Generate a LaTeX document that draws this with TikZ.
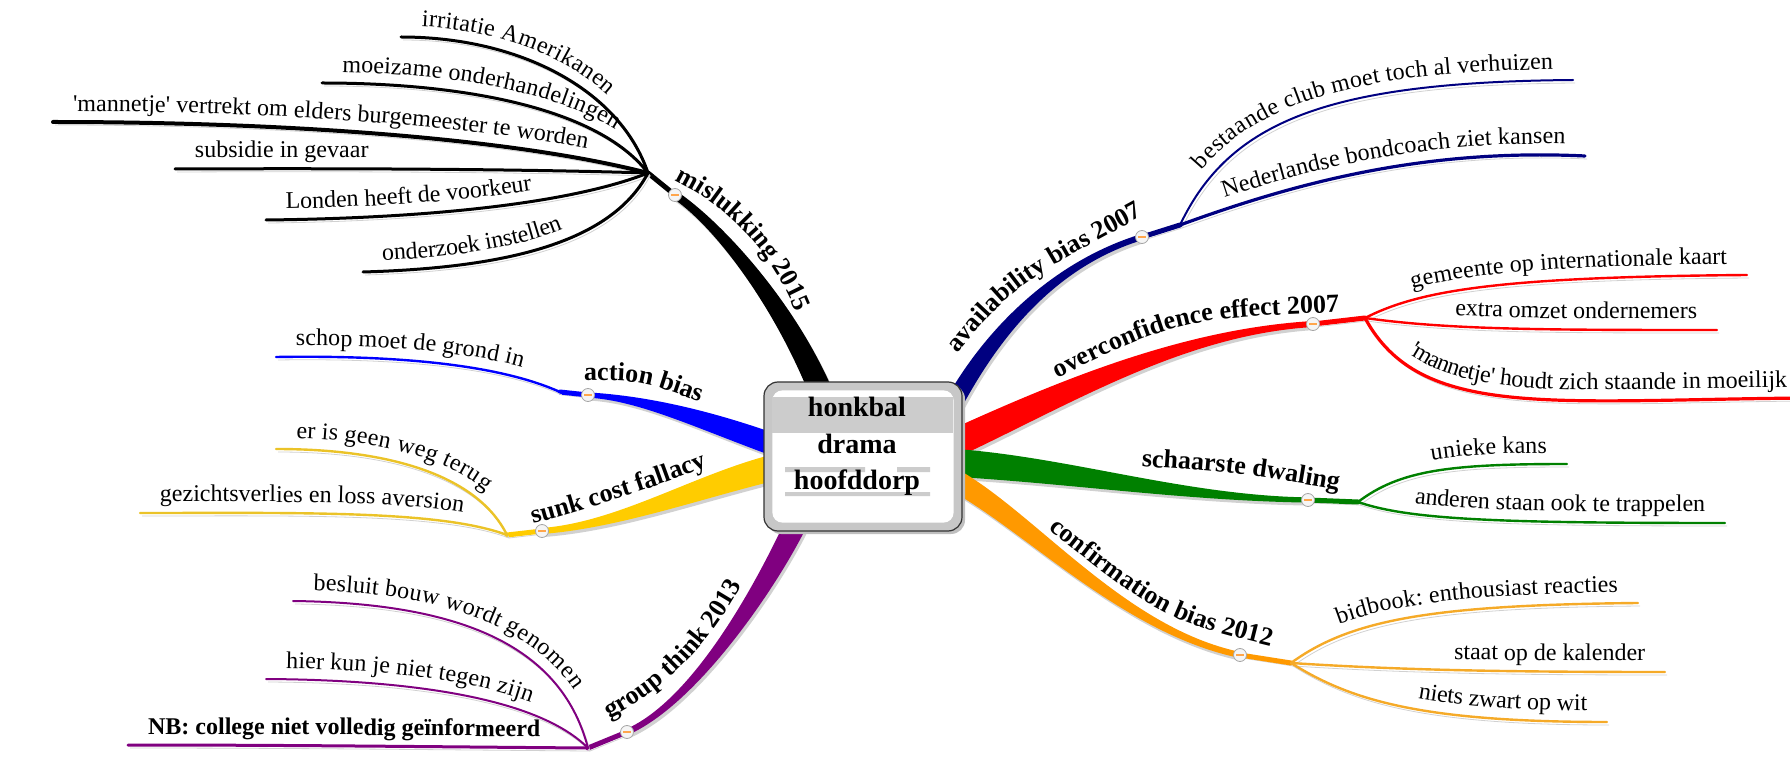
\documentclass[tikz,border=0pt]{standalone}
\usepackage{fontspec}
\setmainfont{Liberation Serif}[Ligatures=TeXOff]
\usetikzlibrary{calc}
\usetikzlibrary{decorations.text}

\definecolor{navyblue}{RGB}{0,0,128}
\definecolor{mapred}{RGB}{255,0,0}
\definecolor{mapgreen}{RGB}{0,128,0}
\definecolor{maporange}{RGB}{255,153,0}
\definecolor{leaforange}{RGB}{245,170,40}
\definecolor{mappurple}{RGB}{128,0,128}
\definecolor{mapyellow}{RGB}{255,204,0}
\definecolor{leafyellow}{RGB}{235,195,40}
\definecolor{mapblue}{RGB}{0,0,255}

\newcommand{\labelfont}{\fontsize{13}{15}\selectfont\bfseries}

% tapered main branch: colour, start, two controls, knob, half width at start and at knob
\newcommand{\limb}[7]{%
  \fill[#1, preaction={fill=black!18, transform canvas={xshift=1pt,yshift=-1.5pt}}]
    let \p0=(#2), \p1=#3, \p2=#4, \p3=(#5),
        \n1={atan2(\y1-\y0,\x1-\x0)+90}, \n2={atan2(\y3-\y2,\x3-\x2)+90} in
    ($(\p0)+(\n1:#6)$) .. controls ($(\p1)+(\n1:#6)$) and ($(\p2)+(\n2:#7)$) .. ($(\p3)+(\n2:#7)$)
    -- ($(\p3)-(\n2:#7)$) .. controls ($(\p2)-(\n2:#7)$) and ($(\p1)-(\n1:#6)$) .. ($(\p0)-(\n1:#6)$) -- cycle;}

\tikzset{
  twig/.style={line width=#1, line cap=round, preaction={draw=black!18, transform canvas={xshift=1pt,yshift=-1.5pt}}},
  lefttext/.style={postaction={decorate, decoration={text along path, text={#1}, raise=5.5pt, text align={left, left indent=10pt}}}},
  righttext/.style={postaction={decorate, decoration={text along path, text={#1}, raise=5.5pt, text align={right, right indent=10pt}}}},
  bough/.style={decorate, decoration={text along path, text={|\labelfont|#1}, text align=center}},
  knob/.style={circle, draw=black!35, fill=black!4, inner sep=0pt, minimum size=6.5pt,
    path picture={\draw[orange!70, line width=.9pt] ([xshift=-1.8pt]path picture bounding box.center) -- ([xshift=1.8pt]path picture bounding box.center);}},
  crate/.style={draw=black!80, fill=black!22, rounded corners=7pt, minimum width=99pt, minimum height=74.5pt, line width=.6pt,
    preaction={fill=black!25, transform canvas={xshift=1.5pt,yshift=-1.5pt}}},
  boxtitle/.style={font=\fontsize{14}{16}\selectfont\bfseries, anchor=base, inner sep=0pt}
}

\begin{document}
\fontsize{12}{14}\selectfont
\begin{tikzpicture}[x=0.5pt, y=-0.5pt]
\useasboundingbox (0,0) rectangle (1790,775);

% starts inside the box, knobs, hubs
\foreach \name/\cx/\cy in {sFail/835/430, sAvail/945/420, sOver/940/450, sScarce/940/462,
  sConfirm/945/475, sGroup/800/515, sSunk/780/466, sAction/780/447,
  kFail/675/195, kAvail/1142/237, kOver/1313/324, kScarce/1308/500,
  kConfirm/1240/655, kGroup/627/732, kSunk/542/531, kAction/588/395,
  hFail/648/173, hAvail/1180/225, hOver/1365/318, hScarce/1358/502,
  hConfirm/1291/663, hGroup/588/748, hSunk/507/535, hAction/560/392}
  \coordinate (\name) at (\cx,\cy);

% free ends of the leaves
\foreach \name/\cx/\cy in {eIrr/401/37, eMoei/322/83, eMan/53/122, eSub/175/169, eLon/266/220,
  eOnd/363/272, eSchop/276/357, eTerug/276/449, eGezicht/140/513, eBesluit/293/601,
  eHier/266/679, eNB/128/745, eClub/1573/80, eBond/1585/156, eKaart/1747/275,
  eOmzet/1717/330, eStaande/1807/398, eKans/1567/464, eTrap/1725/523,
  eBid/1638/603, eKal/1665/672, eWit/1607/722}
  \coordinate (\name) at (\cx,\cy);

% main branches
\limb{black}{sFail}{(800,320)}{(720,225)}{kFail}{6pt}{2pt}
\limb{navyblue}{sAvail}{(985,340)}{(1050,265)}{kAvail}{4.5pt}{1.5pt}
\limb{mapred}{sOver}{(1060,395)}{(1180,332)}{kOver}{7pt}{1.5pt}
\limb{mapgreen}{sScarce}{(1060,468)}{(1180,498)}{kScarce}{7pt}{1.3pt}
\limb{maporange}{sConfirm}{(1025,515)}{(1120,630)}{kConfirm}{5.5pt}{1.5pt}
\limb{mappurple}{sGroup}{(775,570)}{(700,700)}{kGroup}{5.5pt}{1.5pt}
\limb{mapyellow}{sSunk}{(700,485)}{(620,525)}{kSunk}{6.5pt}{1.5pt}
\limb{mapblue}{sAction}{(700,418)}{(640,398)}{kAction}{5.5pt}{1.3pt}

\foreach \k/\h/\c in {kFail/hFail/black, kAvail/hAvail/navyblue, kOver/hOver/mapred,
  kScarce/hScarce/mapgreen, kConfirm/hConfirm/maporange, kGroup/hGroup/mappurple,
  kSunk/hSunk/mapyellow, kAction/hAction/mapblue}
  \draw[twig=2.5pt, \c] (\k) -- (\h);

% leaves
\draw[twig=1.5pt, black, lefttext={irritatie Amerikanen}] (eIrr) .. controls (520,37) and (620,90) .. (hFail);
\draw[twig=1.5pt, black, lefttext={moeizame onderhandelingen}] (eMoei) .. controls (470,83) and (600,110) .. (hFail);
\draw[twig=2pt, black, lefttext={'mannetje' vertrekt om elders burgemeester te worden}] (eMan) .. controls (300,122) and (520,140) .. (hFail);
\draw[twig=1.5pt, black, lefttext={subsidie in gevaar}] (eSub) .. controls (400,168) and (550,170) .. (hFail);
\draw[twig=1.5pt, black, lefttext={Londen heeft de voorkeur}] (eLon) .. controls (450,218) and (580,200) .. (hFail);
\draw[twig=1.5pt, black, lefttext={onderzoek instellen}] (eOnd) .. controls (500,268) and (610,245) .. (hFail);

\draw[twig=1.2pt, mapblue, lefttext={schop moet de grond in}] (eSchop) .. controls (400,355) and (500,365) .. (hAction);

\draw[twig=1.2pt, leafyellow, lefttext={er is geen weg terug}] (eTerug) .. controls (400,449) and (480,480) .. (hSunk);
\draw[twig=1.2pt, leafyellow, lefttext={gezichtsverlies en loss aversion}] (eGezicht) .. controls (300,513) and (440,510) .. (hSunk);

\draw[twig=1pt, mappurple, lefttext={besluit bouw wordt genomen}] (eBesluit) .. controls (450,603) and (560,640) .. (hGroup);
\draw[twig=1pt, mappurple, lefttext={hier kun je niet tegen zijn}] (eHier) .. controls (420,680) and (540,700) .. (hGroup);
\draw[twig=1.5pt, mappurple, lefttext={|\bfseries|NB: college niet volledig geïnformeerd}] (eNB) .. controls (300,745) and (450,747) .. (hGroup);

\draw[twig=1pt, navyblue, righttext={bestaande club moet toch al verhuizen}] (hAvail) .. controls (1230,120) and (1330,82) .. (eClub);
\draw[twig=1.6pt, navyblue, righttext={Nederlandse bondcoach ziet kansen}] (hAvail) .. controls (1290,185) and (1420,148) .. (eBond);

\draw[twig=1.2pt, mapred, righttext={gemeente op internationale kaart}] (hOver) .. controls (1420,290) and (1500,277) .. (eKaart);
\draw[twig=1.2pt, mapred, righttext={extra omzet ondernemers}] (hOver) .. controls (1450,330) and (1550,330) .. (eOmzet);
\draw[twig=1.6pt, mapred, righttext={'mannetje' houdt zich staande in moeilijk}] (hOver) .. controls (1420,420) and (1550,400) .. (eStaande);

\draw[twig=1.2pt, mapgreen, righttext={unieke kans}] (hScarce) .. controls (1400,470) and (1450,464) .. (eKans);
\draw[twig=1.2pt, mapgreen, righttext={anderen staan ook te trappelen}] (hScarce) .. controls (1410,520) and (1500,523) .. (eTrap);

\draw[twig=1.2pt, leaforange, righttext={bidbook: enthousiast reacties}] (hConfirm) .. controls (1350,620) and (1430,605) .. (eBid);
\draw[twig=1.2pt, leaforange, righttext={staat op de kalender}] (hConfirm) .. controls (1400,670) and (1500,672) .. (eKal);
\draw[twig=1.2pt, leaforange, righttext={niets zwart op wit}] (hConfirm) .. controls (1350,700) and (1420,722) .. (eWit);

% central box
\node[crate] (centre) at (863,456.5) {};
\fill[white, rounded corners=5pt] ($(centre.north west)+(4.5pt,-4.5pt)$) rectangle ($(centre.south east)+(-4.5pt,4.5pt)$);
\fill[black!20] (772,397) rectangle (953,433);
\fill[black!20] (785,467) rectangle (865,472) (897,467) rectangle (930,472) (785,492) rectangle (930,496);
\node[boxtitle] (honk) at (857,416) {honkbal};
\node[boxtitle] (drama) at (857,453) {drama};
\node[boxtitle] (dorp) at (857,489) {hoofddorp};

\foreach \k in {kFail,kAvail,kOver,kScarce,kConfirm,kGroup,kSunk,kAction}
  \node[knob] (b\k) at (\k) {};

% branch labels
\path[bough={mislukking 2015}] (664,176) .. controls (707,193) and (770,238) .. (800,323);
\path[bough={action bias}] (576,381) .. controls (640,380) .. (708,405);
\path[bough={sunk cost fallacy}] (522,527) .. controls (600,505) and (650,490) .. (718,462);
\path[bough={group think 2013}] (600,723) .. controls (652,699) and (707,654) .. (746,576);
\path[bough={availability bias 2007}] (951,361) .. controls (1013,286) .. (1152,211);
\path[bough={overconfidence effect 2007}] (1046,384) .. controls (1180,318) .. (1352,312);
\path[bough={schaarste dwaling}] (1136,466) .. controls (1240,473) .. (1344,491);
\path[bough={confirmation bias 2012}] (1036,520) .. controls (1163,620) .. (1286,650);
\end{tikzpicture}
\end{document}
